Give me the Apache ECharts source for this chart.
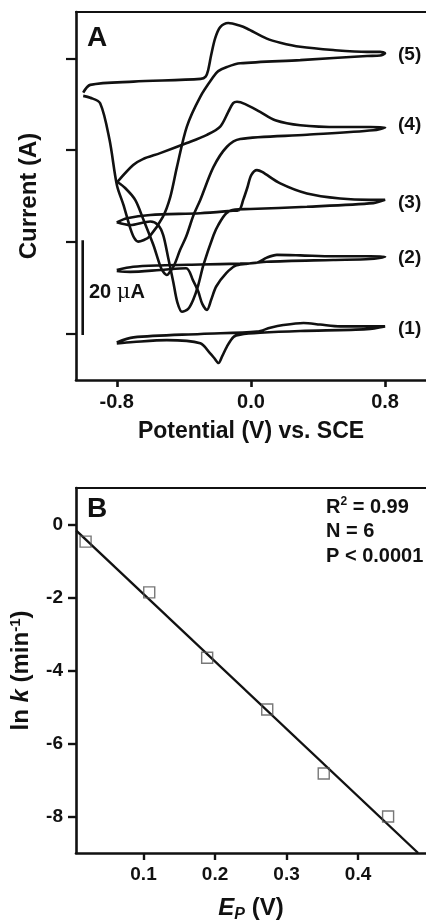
<!DOCTYPE html>
<html><head><meta charset="utf-8">
<script src="https://cdn.jsdelivr.net/npm/echarts@6/dist/echarts.min.js"></script>
<style>html,body{margin:0;padding:0;background:#fff}#c{width:426px;height:924px}</style>
</head><body><div id="c"></div>
<script>
// ---------- Panel A: cyclic voltammograms, [potential V vs SCE, current µA] ----------
const cv1 = [[-0.80,-2.0],[-0.70,-0.9],[-0.30,-0.15],[0.036,0.35],[0.115,1.2],[0.193,1.8],[0.314,2.25],[0.413,1.9],[0.532,1.5],[0.711,1.5],[0.80,1.5],
  [0.692,0.9],[0.294,0.5],[0.055,0.1],[-0.064,-0.3],[-0.104,-0.8],[-0.143,-2.9],[-0.171,-5.0],[-0.193,-6.5],[-0.219,-5.4],[-0.243,-4.4],[-0.302,-2.2],[-0.501,-1.5],[-0.702,-1.9],[-0.80,-2.2]];
const cv2 = [[-0.80,13.8],[-0.702,14.5],[-0.541,14.8],[-0.302,15.0],[-0.064,15.2],[0.036,15.4],[0.095,16.5],[0.155,17.1],[0.294,17.0],[0.491,16.8],[0.711,16.8],[0.80,16.7],
  [0.711,16.2],[0.491,16.0],[0.095,15.6],[-0.034,15.1],[-0.094,14.7],[-0.147,13.1],[-0.207,10.2],[-0.237,7.3],[-0.262,5.1],[-0.290,6.4],[-0.314,9.1],[-0.346,11.6],[-0.386,14.2],[-0.541,13.8],[-0.720,13.4],[-0.80,13.6]];
const cv3 = [[-0.80,24.2],[-0.739,25.1],[-0.600,25.8],[-0.302,26.2],[-0.123,26.7],[-0.070,26.9],[-0.046,29.1],[-0.022,31.7],[0.002,34.5],[0.036,35.6],[0.067,35.2],[0.175,32.7],[0.334,30.5],[0.532,29.4],[0.711,29.1],[0.80,29.1],
  [0.730,28.4],[0.334,27.6],[-0.004,27.1],[-0.094,27.0],[-0.147,26.2],[-0.195,23.6],[-0.223,21.4],[-0.283,14.9],[-0.314,10.5],[-0.344,7.3],[-0.374,5.3],[-0.411,4.7],[-0.439,6.8],[-0.463,11.2],[-0.493,16.4],[-0.523,21.4],[-0.553,23.6],[-0.600,24.4],[-0.720,23.6],[-0.80,24.2]];
const cv4 = [[-0.797,33.0],[-0.702,36.7],[-0.644,38.0],[-0.541,39.3],[-0.382,41.5],[-0.262,43.3],[-0.183,45.1],[-0.135,48.3],[-0.106,50.2],[-0.083,50.5],[-0.034,50.0],[0.055,48.3],[0.145,46.5],[0.294,45.4],[0.532,45.0],[0.711,45.0],[0.80,44.9],
  [0.730,44.3],[0.334,43.3],[-0.064,42.4],[-0.143,40.7],[-0.223,36.3],[-0.302,29.1],[-0.342,25.8],[-0.386,21.1],[-0.422,18.2],[-0.457,14.9],[-0.487,13.2],[-0.501,12.7],[-0.523,13.4],[-0.541,14.7],[-0.582,19.3],[-0.640,24.7],[-0.690,29.1],[-0.750,31.7],[-0.797,33.0]];
const cv5 = [[-1.0,52.5],[-0.958,54.2],[-0.70,54.9],[-0.30,55.5],[-0.27,56.0],[-0.255,57.4],[-0.237,60.7],[-0.213,64.4],[-0.183,66.8],[-0.135,67.7],[-0.064,67.1],[-0.024,66.5],[0.095,64.3],[0.175,63.4],[0.294,62.5],[0.491,61.8],[0.692,61.4],[0.771,61.4],[0.80,61.1],
  [0.771,60.6],[0.692,60.5],[0.294,59.6],[-0.064,58.9],[-0.143,58.1],[-0.195,57.2],[-0.223,56.0],[-0.302,51.6],[-0.382,45.1],[-0.441,36.3],[-0.481,29.7],[-0.525,25.4],[-0.605,21.1],[-0.642,20.3],[-0.672,20.0],[-0.696,20.8],[-0.720,23.0],[-0.760,28.0],[-0.799,32.3],[-0.843,42.2],[-0.899,50.2],[-0.958,51.4],[-1.0,51.8]];
const cvNames = ['(1)','(2)','(3)','(4)','(5)'];
const scaleBar = [[-1.003,-0.4],[-1.003,20.3]];   // 20 µA scale bar
const scaleBarText = '20 ';
const aXTicks = [-0.8, 0.0, 0.8];
const aYTicks = [0, 20, 40, 60];

// ---------- Panel B: ln k vs Ep ----------
const epValues = [0.019, 0.108, 0.189, 0.273, 0.352, 0.442];
const lnkValues = [-0.47, -1.86, -3.65, -5.07, -6.82, -8.0];
const fitX = [0.006, 0.484];
const fitY = [-0.17, -9.0];
const bXTicks = [0.1, 0.2, 0.3, 0.4];
const bYTicks = [0, -2, -4, -6, -8];
const statsLines = ['= 0.99', 'N = 6', 'P < 0.0001'];

const FONT = '"Liberation Sans", Arial, Helvetica, sans-serif';
const K = '#111';
const chart = echarts.init(document.getElementById('c'), null, {renderer: 'canvas'});

const cvs = [cv1, cv2, cv3, cv4, cv5];
const series = cvs.map((d, i) => ({
  name: cvNames[i], type: 'line', xAxisIndex: 0, yAxisIndex: 0, data: d,
  showSymbol: false, smooth: 0.3, lineStyle: {color: K, width: 2.6}, silent: true, z: 3
}));
series.push({type: 'line', xAxisIndex: 0, yAxisIndex: 0, data: scaleBar, showSymbol: false,
  lineStyle: {color: K, width: 2.6}, silent: true});
series.push({type: 'line', xAxisIndex: 2, yAxisIndex: 1, data: fitX.map((x, i) => [x, fitY[i]]),
  showSymbol: false, lineStyle: {color: K, width: 2.4}, silent: true, z: 2});
series.push({type: 'scatter', xAxisIndex: 2, yAxisIndex: 1, data: epValues.map((x, i) => [x, lnkValues[i]]),
  symbol: 'rect', symbolSize: 11, itemStyle: {color: 'rgba(255,255,255,0)', borderColor: '#555', borderWidth: 1.4}, z: 4, silent: true});

const lbl = (size) => ({color: K, fontFamily: FONT, fontWeight: 'bold', fontSize: size});

const option = {
  animation: false,
  backgroundColor: '#fff',
  grid: [
    {left: 76, top: 12, width: 350, height: 368},
    {left: 75, top: 488, width: 351, height: 366}
  ],
  xAxis: [
    {gridIndex: 0, type: 'value', min: -1.043, max: 1.044, position: 'bottom',
     axisLine: {show: true, onZero: false, lineStyle: {color: K, width: 2.6}},
     axisTick: {show: true, inside: false, length: 7, customValues: aXTicks, lineStyle: {color: K, width: 2.6}},
     axisLabel: {show: true, customValues: aXTicks, margin: 12, formatter: v => v.toFixed(1), ...lbl(20)},
     splitLine: {show: false},
     name: 'Potential (V) vs. SCE', nameLocation: 'middle', nameGap: 40,
     nameTextStyle: lbl(23)},
    {gridIndex: 0, type: 'value', min: -1.043, max: 1.044, position: 'top',
     axisLine: {show: true, onZero: false, lineStyle: {color: K, width: 2.2}},
     axisTick: {show: false}, axisLabel: {show: false}, splitLine: {show: false}},
    {gridIndex: 1, type: 'value', min: 0.0056, max: 0.495, position: 'bottom',
     axisLine: {show: true, onZero: false, lineStyle: {color: K, width: 2.6}},
     axisTick: {show: true, inside: false, length: 7, customValues: bXTicks, lineStyle: {color: K, width: 2.4}},
     axisLabel: {show: true, customValues: bXTicks, margin: 12, formatter: v => v.toFixed(1), ...lbl(19)},
     splitLine: {show: false},
     name: '{e|E}{p|P} (V)', nameLocation: 'middle', nameGap: 40,
     nameTextStyle: {...lbl(24), rich: {
       e: {...lbl(24), fontStyle: 'italic'},
       p: {...lbl(16), fontStyle: 'italic', padding: [14, 0, 0, 0]}
     }}},
    {gridIndex: 1, type: 'value', min: 0.0056, max: 0.495, position: 'top',
     axisLine: {show: true, onZero: false, lineStyle: {color: K, width: 2.2}},
     axisTick: {show: false}, axisLabel: {show: false}, splitLine: {show: false}}
  ],
  yAxis: [
    {gridIndex: 0, type: 'value', min: -10.2, max: 70.1,
     axisLine: {show: true, onZero: false, lineStyle: {color: K, width: 2.6}},
     axisTick: {show: true, inside: false, length: 10, customValues: aYTicks, lineStyle: {color: K, width: 2.2}},
     axisLabel: {show: false}, splitLine: {show: false},
     name: 'Current (A)', nameLocation: 'middle', nameGap: 35, nameRotate: 90,
     nameTextStyle: lbl(24)},
    {gridIndex: 1, type: 'value', min: -9, max: 1,
     axisLine: {show: true, onZero: false, lineStyle: {color: K, width: 2.6}},
     axisTick: {show: true, inside: false, length: 8, customValues: bYTicks, lineStyle: {color: K, width: 2.4}},
     axisLabel: {show: true, customValues: bYTicks, margin: 13, formatter: v => String(v), ...lbl(19)},
     splitLine: {show: false},
     name: 'ln {k|k} (min{s|-1})', nameLocation: 'middle', nameGap: 41, nameRotate: 90,
     nameTextStyle: {...lbl(24), rich: {
       k: {...lbl(24), fontStyle: 'italic'},
       s: {...lbl(15), padding: [0, 0, 12, 0]}
     }}}
  ],
  series: series,
  graphic: [
    {type: 'text', left: 87, top: 24, style: {text: 'A', fill: K, font: 'bold 28px ' + FONT}},
    {type: 'text', left: 87, top: 495, style: {text: 'B', fill: K, font: 'bold 28px ' + FONT}},
    ...[330, 259.5, 204.5, 126, 56].map((y, i) => ({type: 'text', left: 398, top: y - 11,
      style: {text: cvNames[i], fill: K, font: 'bold 19px ' + FONT}})),
    {type: 'text', left: 89, top: 282, style: {
      text: '{a|' + scaleBarText + '}{m|\u03bc}{a|A}',
      rich: {a: {fill: K, font: 'bold 20px ' + FONT}, m: {fill: K, font: '21px "DejaVu Serif", serif'}}}},
    {type: 'text', left: 326, top: 496, style: {
      text: '{a|R}{s|2}{a| ' + statsLines[0] + '}',
      rich: {a: {fill: K, font: 'bold 20px ' + FONT}, s: {fill: K, font: 'bold 12px ' + FONT, padding: [0, 0, 10, 0]}}}},
    {type: 'text', left: 326, top: 521, style: {text: statsLines[1], fill: K, font: 'bold 20px ' + FONT}},
    {type: 'text', left: 326, top: 546, style: {text: statsLines[2], fill: K, font: 'bold 20px ' + FONT}}
  ]
};
chart.setOption(option);
</script></body></html>
